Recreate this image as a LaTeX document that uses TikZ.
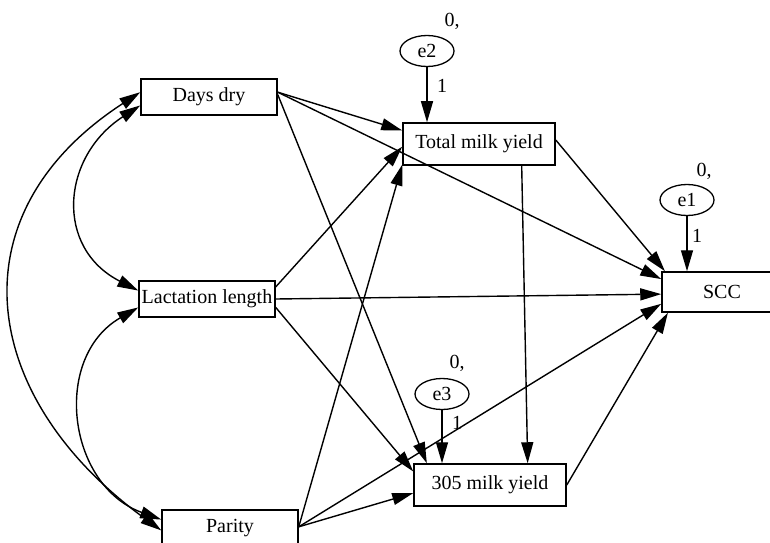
\documentclass[tikz,border=0pt]{standalone}
\usepackage{fontspec}
\setmainfont{Liberation Serif}
\usetikzlibrary{arrows.meta, shapes.geometric}

\tikzset{
	var/.style = {draw, line width = 1.5pt, minimum width = 136pt, minimum height = 36pt, inner sep = 0pt},
	err/.style = {draw, ellipse, line width = 1.3pt, minimum width = 54pt, minimum height = 31pt, inner sep = 0pt},
	eff/.style = {line width = 1.4pt, -{Triangle[length = 21pt, width = 12pt]}},
	cov/.style = {line width = 1.4pt, {Triangle[length = 21pt, width = 12pt]}-{Triangle[length = 21pt, width = 12pt]}}
}

\begin{document}
\begin{tikzpicture}[x = 1pt, y = 1pt, font = \fontsize{20pt}{24pt}\selectfont]

	\useasboundingbox (0, 0) rectangle (770, 542);

	% observed variables
	\node[var] (dd)   at (209, 445) {Days dry};
	\node[var] (ll)   at (207, 243) {Lactation length};
	\node[var] (par)  at (230, 14)  {Parity};
	\node[var, minimum width = 152pt, minimum height = 42pt] (tmy)  at (479, 398) {Total milk yield};
	\node[var, minimum width = 152pt, minimum height = 42pt] (y305) at (490, 57)  {305 milk yield};
	\node[var, minimum width = 120pt, minimum height = 40pt] (scc)  at (722, 250) {SCC};

	% error terms
	\node[err] (e2) at (427, 491) {e2};
	\node[err] (e1) at (687, 342) {e1};
	\node[err] (e3) at (442, 148) {e3};
	\node (m2) at (452, 521) {0,};
	\node (m1) at (704, 371) {0,};
	\node (m3) at (457, 179) {0,};
	\node (w2) at (442, 456) {1};
	\node (w1) at (697, 306) {1};
	\node (w3) at (457, 119) {1};

	\draw[eff] (e2.south) -- (e2.south |- tmy.north);
	\draw[eff] (e1.south) -- (e1.south |- scc.north);
	\draw[eff] (e3.south) -- (e3.south |- y305.north);

	% covariances
	\draw[cov] (dd.187) to[out = 213, in = 153, looseness = 1.3] (ll.173);
	\draw[cov] (ll.187) to[out = 210, in = 160, looseness = 1.2] (par.173);
	\draw[cov] (dd.176) to[out = 213, in = 144, looseness = 1.31] (par.182);

	% paths
	\draw[eff] (dd.4) -- (tmy.170);
	\draw[eff] (dd.4) -- (scc.168);
	\draw[eff] (dd.2) -- (y305.161);

	\draw[eff] (ll.10) -- (tmy.182);
	\draw[eff] (ll.east) -- (scc.182);
	\draw[eff] (ll.-7) -- (y305.170);

	\draw[eff] (par.1) -- (tmy.195);
	\draw[eff] (par.1) -- (scc.191);
	\draw[eff] (par.1) -- (y305.186);

	\draw[eff] (tmy.3) -- (scc.160);
	\draw[eff] (tmy.-27) -- (y305.30);
	\draw[eff] (y305.east) -- (scc.201);

\end{tikzpicture}
\end{document}
